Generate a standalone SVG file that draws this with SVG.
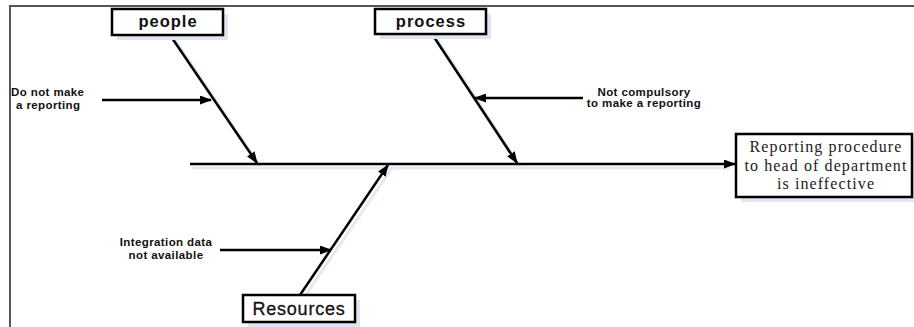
<svg xmlns="http://www.w3.org/2000/svg" width="914" height="327" viewBox="0 0 914 327">
  <style>
    .frame { stroke: #555; stroke-width: 2; fill: none; }
    .box { fill: #fff; stroke: #000; stroke-width: 2.5; }
    .shadow { fill: #dfe6f0; }
    .line { stroke: #000; stroke-width: 2.5; fill: none; }
    .lineshadow { stroke: #e3eaf3; stroke-width: 3; fill: none; }
    .cat { font-family: "Liberation Sans", Arial, sans-serif; font-weight: bold; font-size: 16.5px; letter-spacing: 1px; text-anchor: middle; fill: #111; }
    .res { font-family: "Liberation Sans", Arial, sans-serif; font-size: 18px; letter-spacing: 0.8px; text-anchor: middle; fill: #111; stroke: #111; stroke-width: 0.3; }
    .cause { font-family: "Liberation Sans", Arial, sans-serif; font-weight: bold; font-size: 11.5px; letter-spacing: 0.4px; fill: #111; }
    .effect { font-family: "Liberation Serif", "Times New Roman", serif; font-size: 16px; letter-spacing: 1.1px; text-anchor: middle; fill: #222; }
  </style>
  <defs>
    <marker id="arrow" viewBox="0 0 12 9" refX="11" refY="4.5" markerWidth="12" markerHeight="9" markerUnits="userSpaceOnUse" orient="auto">
      <path d="M0,0 L12,4.5 L0,9 Z" fill="#000"/>
    </marker>
  </defs>

  <rect width="914" height="327" fill="#fff"/>
  <!-- outer frame: top and left edges -->
  <path class="frame" d="M10,327 L10,6 L914,6"/>

  <g id="connectors">
    <!-- soft shadows under the bones -->
    <line class="lineshadow" x1="192" y1="168" x2="730" y2="168"/>
    <line class="lineshadow" x1="174" y1="38" x2="260" y2="166"/>
    <line class="lineshadow" x1="436" y1="37" x2="520" y2="166"/>
    <line class="lineshadow" x1="305" y1="296" x2="392" y2="168"/>
    <!-- spine -->
    <line class="line" x1="190" y1="164" x2="735" y2="164" marker-end="url(#arrow)"/>
    <!-- category bones -->
    <line class="line" x1="170" y1="35" x2="257" y2="163" marker-end="url(#arrow)"/>
    <line class="line" x1="432" y1="34" x2="517" y2="163" marker-end="url(#arrow)"/>
    <line class="line" x1="300" y1="295" x2="388" y2="165" marker-end="url(#arrow)"/>
    <!-- cause arrows -->
    <line class="line" x1="102" y1="100" x2="211" y2="100" marker-end="url(#arrow)"/>
    <line class="line" x1="583" y1="98" x2="475" y2="98" marker-end="url(#arrow)"/>
    <line class="line" x1="220" y1="250" x2="331" y2="250" marker-end="url(#arrow)"/>
  </g>

  <g id="people">
    <rect class="shadow" x="117" y="14" width="111" height="26"/>
    <rect class="box" x="112" y="9" width="111" height="26"/>
    <text class="cat" x="168" y="27">people</text>
  </g>

  <g id="process">
    <rect class="shadow" x="380" y="14" width="111" height="25"/>
    <rect class="box" x="375" y="9" width="111" height="25"/>
    <text class="cat" x="431" y="27">process</text>
  </g>

  <g id="resources">
    <rect class="shadow" x="248" y="300" width="112" height="27"/>
    <rect class="box" x="243" y="295" width="112" height="27"/>
    <text class="res" x="299" y="315">Resources</text>
  </g>

  <g id="effect">
    <rect class="shadow" x="741" y="139" width="177" height="63"/>
    <rect class="box" x="736" y="134" width="176" height="63"/>
    <text class="effect" x="826" y="152">Reporting procedure</text>
    <text class="effect" x="826" y="171">to head of department</text>
    <text class="effect" x="826" y="189">is ineffective</text>
  </g>

  <g id="cause-people">
    <text class="cause" x="11" y="96">Do not make</text>
    <text class="cause" x="16" y="109">a reporting</text>
  </g>

  <g id="cause-process">
    <text class="cause" x="644" y="96" text-anchor="middle">Not compulsory</text>
    <text class="cause" x="644" y="107" text-anchor="middle">to make a reporting</text>
  </g>

  <g id="cause-resources">
    <text class="cause" x="166" y="246" text-anchor="middle">Integration data</text>
    <text class="cause" x="166" y="259" text-anchor="middle">not available</text>
  </g>
</svg>
